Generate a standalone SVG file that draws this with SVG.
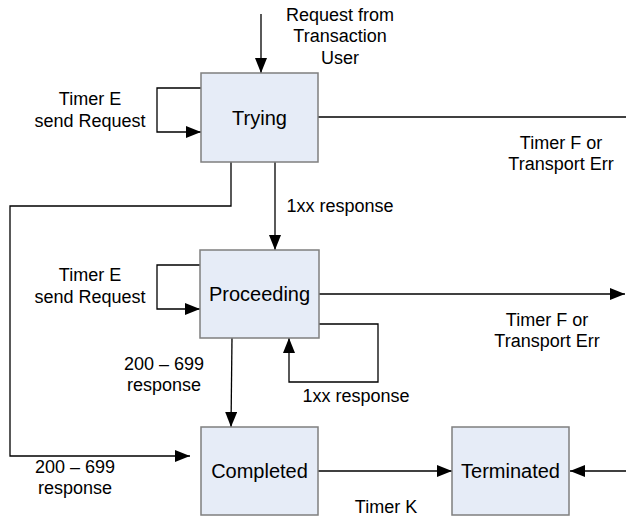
<svg xmlns="http://www.w3.org/2000/svg" width="626" height="517" viewBox="0 0 626 517">
<style>
.box{fill:#E6ECF7;stroke:#7F7F7F;stroke-width:1.5}
.conn{fill:none;stroke:#000;stroke-width:1.3}
.lbl{font-family:"Liberation Sans",Arial,sans-serif;font-size:18px;fill:#000;text-anchor:middle}
.ntx{font-family:"Liberation Sans",Arial,sans-serif;font-size:20px;fill:#000;text-anchor:middle}
</style>
<defs>
<marker id="arr" markerUnits="userSpaceOnUse" markerWidth="15" markerHeight="12" viewBox="0 0 15 12" refX="15" refY="6" orient="auto">
<path d="M0,0 L15,6 L0,12 z" fill="#000"/>
</marker>
</defs>
<rect width="626" height="517" fill="#fff"/>
<g id="connectors">
<path class="conn" d="M261,14 V73" marker-end="url(#arr)"/>
<path class="conn" d="M201,88 H157 V132 H201" marker-end="url(#arr)"/>
<path class="conn" d="M318,117 H626"/>
<path class="conn" d="M231,162 V206 H10 V456 H190" marker-end="url(#arr)"/>
<path class="conn" d="M275,162 V250" marker-end="url(#arr)"/>
<path class="conn" d="M200,265 H157 V309 H200" marker-end="url(#arr)"/>
<path class="conn" d="M319,294 H625" marker-end="url(#arr)"/>
<path class="conn" d="M319,324 H378 V382 H289 V338" marker-end="url(#arr)"/>
<path class="conn" d="M232,338 L231,427" marker-end="url(#arr)"/>
<path class="conn" d="M318,471 H452" marker-end="url(#arr)"/>
<path class="conn" d="M626,471 H570" marker-end="url(#arr)"/>
</g>
<g id="labels">
<text class="lbl" x="340" y="21">Request from</text>
<text class="lbl" x="340" y="42">Transaction</text>
<text class="lbl" x="340" y="64">User</text>
<text class="lbl" x="90" y="105">Timer E</text>
<text class="lbl" x="90" y="127">send Request</text>
<text class="lbl" x="561" y="149">Timer F or</text>
<text class="lbl" x="561" y="170">Transport Err</text>
<text class="lbl" x="340" y="212">1xx response</text>
<text class="lbl" x="90" y="281">Timer E</text>
<text class="lbl" x="90" y="303">send Request</text>
<text class="lbl" x="547" y="326">Timer F or</text>
<text class="lbl" x="547" y="347">Transport Err</text>
<text class="lbl" x="164" y="370">200 – 699</text>
<text class="lbl" x="164" y="391">response</text>
<text class="lbl" x="356" y="402">1xx response</text>
<text class="lbl" x="75" y="473">200 – 699</text>
<text class="lbl" x="75" y="494">response</text>
<text class="lbl" x="386" y="513">Timer K</text>
</g>
<g id="trying">
<rect class="box" x="201" y="73" width="117" height="89"/>
<text class="ntx" x="259.5" y="124.5">Trying</text>
</g>
<g id="proceeding">
<rect class="box" x="200" y="250" width="119" height="88"/>
<text class="ntx" x="259.5" y="301">Proceeding</text>
</g>
<g id="completed">
<rect class="box" x="201" y="427" width="117" height="88"/>
<text class="ntx" x="259.5" y="478">Completed</text>
</g>
<g id="terminated">
<rect class="box" x="452" y="427" width="117" height="88"/>
<text class="ntx" x="510.5" y="478">Terminated</text>
</g>
</svg>
